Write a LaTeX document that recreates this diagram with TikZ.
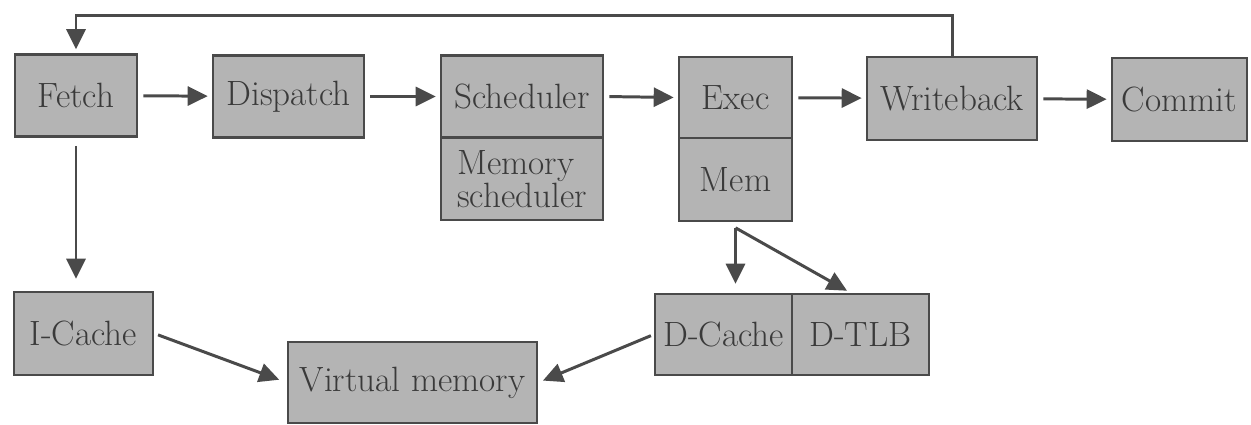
\documentclass[tikz,border=0pt]{standalone}
\usetikzlibrary{arrows.meta}
\definecolor{boxgray}{HTML}{B4B4B4}
\definecolor{edgegray}{HTML}{4A4A4A}
\definecolor{inkgray}{HTML}{3A3A3A}
\begin{document}
\begin{tikzpicture}[x=0.02cm,y=-0.02cm,
  unit/.style={draw=edgegray,fill=boxgray,line width=1.5pt,text=inkgray,inner sep=0pt,
    minimum height=1.64cm,font=\fontsize{20}{19}\selectfont},
  flow/.style={draw=edgegray,line width=1.7pt,-{Triangle[length=0.4cm,width=0.38cm]},
    shorten <=0.1cm,shorten >=0.08cm}]
  \useasboundingbox (0,0) rectangle (1251,424);
  % pipeline row
  \node[unit,minimum width=2.44cm] (fetch) at (76,95.5) {Fetch};
  \node[unit,minimum width=3.02cm] (dispatch) at (288.5,96.5) {Dispatch};
  \node[unit,minimum width=3.24cm] (sched) at (522,96.5) {Scheduler};
  \node[unit,minimum width=3.24cm,align=left] (memsched) at (522,179) {Memory\\scheduler};
  \node[unit,minimum width=2.26cm,minimum height=1.62cm] (exec) at (735.5,97.5) {Exec};
  \node[unit,minimum width=2.26cm,minimum height=1.66cm] (mem) at (735.5,179.5) {Mem};
  \node[unit,minimum width=3.4cm,minimum height=1.66cm] (wb) at (952,98.5) {Writeback};
  \node[unit,minimum width=2.7cm,minimum height=1.66cm] (commit) at (1179.5,99.5) {Commit};
  % memory side
  \node[unit,minimum width=2.78cm,minimum height=1.66cm] (icache) at (83.5,333.5) {I-Cache};
  \node[unit,minimum width=4.98cm,minimum height=1.62cm] (vm) at (412.5,382.5) {Virtual memory};
  \node[unit,minimum width=2.74cm,minimum height=1.62cm] (dcache) at (723.5,334.5) {D-Cache};
  \node[unit,minimum width=2.74cm,minimum height=1.62cm] (dtlb) at (860.5,334.5) {D-TLB};
  \coordinate (loop) at (0,15);
  \coordinate (split) at ([yshift=-0.11cm]mem.south);
  % connectors
  \draw[flow] (fetch) -- (dispatch);
  \draw[flow] (dispatch) -- (sched);
  \draw[flow] (sched.east) -- (exec.west);
  \draw[flow] (exec) -- (wb);
  \draw[flow] (wb) -- (commit);
  \draw[flow,shorten <=0pt] (wb.north) -- (wb.north |- loop) -| (fetch.north);
  \draw[flow,shorten <=0.16cm,shorten >=0.24cm] (fetch.south) -- (fetch.south |- icache.north);
  \draw[flow,shorten <=0pt,shorten >=0.18cm] (split) -- (split |- dcache.north);
  \draw[flow,shorten <=0pt] (split) -- ([xshift=-0.2cm]dtlb.north);
  \draw[flow,shorten <=0.08cm,shorten >=0.16cm] (icache.east) -- (vm.west);
  \draw[flow,shorten <=0.06cm,shorten >=0.1cm] (dcache.west) -- (vm.east);
\end{tikzpicture}
\end{document}
